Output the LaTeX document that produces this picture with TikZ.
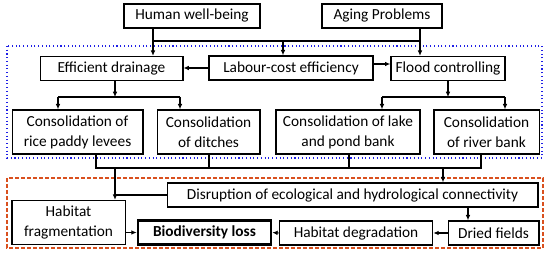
\documentclass[tikz,border=0pt]{standalone}
\usepackage{fontspec}
\setmainfont{Carlito}
\usetikzlibrary{arrows.meta,positioning}
\definecolor{frameblue}{HTML}{1F1FE6}
\definecolor{framered}{HTML}{D9501E}

\begin{document}
\begin{tikzpicture}[x=0.75pt,y=-0.75pt,font=\fontsize{11.5}{15}\selectfont,
  box/.style={draw,line width=1pt,align=center,inner sep=1pt,minimum height=18pt},
  tall/.style={box,minimum height=33pt},
  arr/.style={-{Latex[length=4pt,width=3.5pt]}},
  every path/.style={line width=0.8pt}]
\useasboundingbox[fill=white] (0,0) rectangle (550,259);
% frames
\draw[frameblue,dotted,line width=0.9pt] (7,46) rectangle (542,158);
\draw[framered,dashed,line width=0.9pt,dash pattern=on 3pt off 1.5pt] (7,178) rectangle (543,248);
% drivers
\node[box,minimum width=102pt] (hwb) at (192,16) {Human well-being};
\node[box,minimum width=90pt] (aging) at (382,16) {Aging Problems};
\node[box,minimum width=107pt] (drain) at (111.5,68.5) {Efficient drainage};
\node[box,minimum width=123pt] (labour) at (291,68) {Labour-cost efficiency};
\node[box,minimum width=85.5pt] (flood) at (448,68.5) {Flood controlling};
% consolidation works
\node[tall,minimum width=98pt] (cons1) at (77.5,132) {Consolidation of\\rice paddy levees};
\node[tall,minimum width=77pt] (cons2) at (208.5,132) {Consolidation\\of ditches};
\node[tall,minimum width=108pt] (cons3) at (348,132) {Consolidation of lake\\and pond bank};
\node[tall,minimum width=79pt] (cons4) at (486.5,132) {Consolidation\\of river bank};
% impacts
\node[box,minimum width=278pt] (disrupt) at (352.5,195) {Disruption of ecological and hydrological connectivity};
\node[tall,minimum width=85pt] (habfrag) at (68.5,222.5) {Habitat\\fragmentation};
\node[box,minimum width=100pt,line width=1.7pt] (biodiv) at (204.5,232.5) {\textbf{Biodiversity loss}};
\node[box,minimum width=115pt] (habdeg) at (356,233) {Habitat degradation};
\node[box,minimum width=68pt] (dried) at (493.5,233) {Dried fields};
% junctions
\coordinate (jl) at (153,41);
\coordinate (jm) at (283,41);
\coordinate (jr) at (420,41);
\coordinate (ds) at (115,97);
\coordinate (d1) at (58,97);
\coordinate (d2) at (180,97);
\coordinate (fs) at (448,97);
\coordinate (f1) at (382,97);
\coordinate (f2) at (505,97);
\coordinate (m1) at (96,168);
\coordinate (m2) at (209,168);
\coordinate (m3) at (349,168);
\coordinate (m4) at (481,168);
\coordinate (mf) at (115,168);
\coordinate (md) at (443,168);
\coordinate (dd) at (468,0);
% top connectors
\draw[arr] (hwb.south -| jl) -- (drain.north -| jl);
\draw (jl) -- (jr);
\draw[arr] (aging.south -| jr) -- (flood.north -| jr);
\draw[arr] (jm) -- (labour.north -| jm);
\draw[arr] (labour.west) -- (labour.west -| drain.east);
\draw[arr] ([yshift=3pt]labour.east) -- ([yshift=3pt]labour.east -| flood.west);
\draw[arr] (drain.south -| ds) -- (ds);
\draw (d1) -- (d2);
\draw[arr] (d1) -- (d1 |- cons1.north);
\draw[arr] (d2) -- (d2 |- cons2.north);
\draw[arr] (flood.south -| fs) -- (fs);
\draw (f1) -- (f2);
\draw[arr] (f1) -- (f1 |- cons3.north);
\draw[arr] (f2) -- (f2 |- cons4.north);
% bottom connectors
\draw (cons1.south -| m1) -- (m1) -- (m4) -- (cons4.south -| m4);
\draw (cons2.south -| m2) -- (m2);
\draw (cons3.south -| m3) -- (m3);
\draw[arr] (mf) -- (mf |- habfrag.north);
\draw (disrupt.west) -- (disrupt.west -| mf);
\draw[arr] (md) -- (md |- disrupt.north);
\draw[arr] (disrupt.south -| dd) -- (dried.north -| dd);
\draw[arr] (dried.west) -- (habdeg.east);
\draw[arr] (habdeg.west) -- (biodiv.east);
\draw[arr] (habfrag.east |- biodiv.west) -- (biodiv.west);
\end{tikzpicture}
\end{document}
